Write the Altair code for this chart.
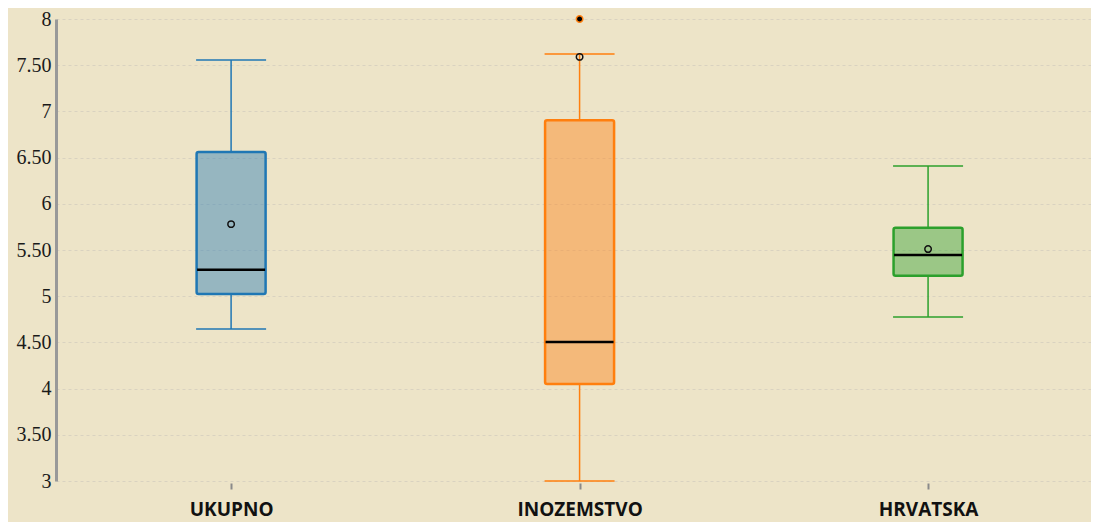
import altair as alt
import pandas as pd

categories = ["UKUPNO", "INOZEMSTVO", "HRVATSKA"]
whisker_low = [4.645, 3.0, 4.775]
q1 = [5.025, 4.05, 5.22]
median = [5.285, 4.505, 5.445]
q3 = [6.56, 6.905, 5.74]
whisker_high = [7.555, 7.62, 6.41]
means = [5.78, 7.59, 5.51]
outlier_cat = ["INOZEMSTVO"]
outlier_val = [8.0]
colors = ["#1f77b4", "#ff7f0e", "#2ca02c"]

df = pd.DataFrame({
    "cat": categories, "lo": whisker_low, "q1": q1, "med": median,
    "q3": q3, "hi": whisker_high, "mean": means,
})
out_df = pd.DataFrame({"cat": outlier_cat, "val": outlier_val})

xscale = alt.Scale(type="point", domain=categories, padding=0.485, align=0.518)
x_axis = alt.Axis(title=None, labelAngle=0, domain=False, grid=False,
                  ticks=True, tickSize=6, tickColor="#8a8a8a", tickWidth=2,
                  offset=2, labelFont="Open Sans", labelFontWeight="bold",
                  labelFontSize=19, labelColor="#111111", labelPadding=11)


def X():
    return alt.X("cat:N", sort=categories, scale=xscale, axis=x_axis)


yscale = alt.Scale(domain=[3, 8], nice=False, zero=False)
y_axis = alt.Axis(title=None, values=[3, 3.5, 4, 4.5, 5, 5.5, 6, 6.5, 7, 7.5, 8],
                  labelExpr="datum.value % 1 == 0 ? format(datum.value, 'd') : format(datum.value, '.2f')",
                  labelFont="Liberation Serif", labelFontSize=20, labelColor="#1a1a1a",
                  labelPadding=5, ticks=False, domain=True, domainColor="#999999",
                  domainWidth=3, grid=True, gridColor="#d9d2c0", gridDash=[3, 3],
                  gridWidth=1)
color = alt.Color("cat:N", scale=alt.Scale(domain=categories, range=colors), legend=None)
stroke = alt.Stroke("cat:N", scale=alt.Scale(domain=categories, range=colors), legend=None)

base = alt.Chart(df)

whisker_low_rule = base.mark_rule(strokeWidth=1.5, opacity=1).encode(
    x=X(), y=alt.Y("lo:Q", scale=yscale, axis=y_axis), y2="q1:Q", color=color)
whisker_high_rule = base.mark_rule(strokeWidth=1.5, opacity=1).encode(
    x=X(), y="q3:Q", y2="hi:Q", color=color)
caps_lo = base.mark_tick(size=70, thickness=1.5, orient="horizontal", opacity=1).encode(
    x=X(), y="lo:Q", color=color)
caps_hi = base.mark_tick(size=70, thickness=1.5, orient="horizontal", opacity=1).encode(
    x=X(), y="hi:Q", color=color)
box = base.mark_bar(size=69, strokeWidth=2.5, fillOpacity=0.42, strokeOpacity=1,
                    cornerRadius=2).encode(
    x=X(), y="q1:Q", y2="q3:Q", fill=color, stroke=stroke)
med = base.mark_tick(size=68, thickness=2.5, color="black", orient="horizontal",
                     opacity=1).encode(x=X(), y="med:Q")
mean_pt = base.mark_point(shape="circle", size=42, filled=False, color="#111111",
                          strokeWidth=1.5, opacity=1).encode(x=X(), y="mean:Q")
outl = alt.Chart(out_df).mark_point(shape="circle", size=42, filled=True, fill="black",
                                    stroke="#ff7f0e", strokeWidth=1.5, opacity=1).encode(
    x=X(), y="val:Q")

chart = alt.layer(whisker_low_rule, whisker_high_rule, caps_lo, caps_hi, box, med,
                  mean_pt, outl).properties(
    width=1035, height=462,
    autosize=alt.AutoSizeParams(type="none"),
    padding={"left": 48, "top": 11, "right": 0, "bottom": 41},
    background="#ede4c8",
).configure_view(stroke=None)

chart.save("out.html", embed_options={"renderer": "svg", "actions": False})
